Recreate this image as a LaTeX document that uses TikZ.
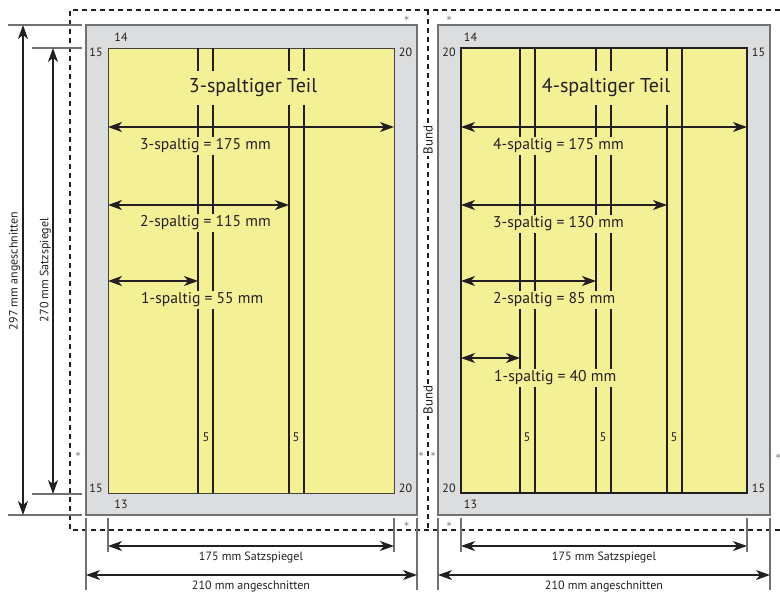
\documentclass[tikz,border=0pt]{standalone}
\usepackage{fontspec}
\setmainfont{PT Sans}
\newfontfamily\starfont{DejaVu Sans}
\usetikzlibrary{arrows.meta}
\definecolor{pagegray}{RGB}{220,221,222}
\definecolor{edgegray}{RGB}{112,113,115}
\definecolor{satz}{RGB}{244,240,150}
\definecolor{ink}{RGB}{35,31,32}
\begin{document}
\begin{tikzpicture}[x=1pt,y=-1pt,
  page/.style={fill=pagegray,draw=edgegray,line width=1.2pt},
  satzL/.style={fill=satz,draw=ink!85,line width=1pt},
  satzR/.style={fill=satz,draw=ink,line width=2pt},
  colline/.style={draw=ink,line width=1.1pt},
  dashline/.style={draw=ink,line width=1.1pt,dash pattern=on 5pt off 4pt},
  tickline/.style={draw=edgegray,line width=1.1pt},
  dim/.style={draw=ink,line width=1.2pt,{Stealth[length=14pt,width=10pt,inset=4pt]}-{Stealth[length=14pt,width=10pt,inset=4pt]}},
  lab/.style={fill=satz,inner xsep=1pt,inner ysep=2pt,text=ink,font=\fontsize{15.6}{17}\selectfont,anchor=west},
  title/.style={fill=satz,inner xsep=2pt,inner ysep=8pt,text=ink,font=\fontsize{20}{22}\selectfont},
  small/.style={text=ink,font=\fontsize{12}{13}\selectfont,inner sep=0pt},
  gut/.style={text=ink,font=\fontsize{12.5}{13}\selectfont,inner sep=0pt},
  dimtxt/.style={text=ink,font=\fontsize{12}{14}\selectfont,inner sep=0pt},
  star/.style={text=edgegray,font=\starfont\fontsize{10}{11}\selectfont,inner sep=0pt},
  bund/.style={fill=white,text=ink,font=\fontsize{13}{14}\selectfont,inner xsep=2pt,inner ysep=1pt,rotate=90}
]
\useasboundingbox (0,0) rectangle (780,592);

% dashed trim frame
\draw[dashline] (780,10) -- (70,10) -- (70,530) -- (780,530);
\draw[dashline] (428,10) -- (428,528);

% pages
\draw[page] (86,25) rectangle (417,515);
\draw[page] (438,25) rectangle (770,515);
\draw[satzL] (108,48) rectangle (394,493);
\draw[satzR] (461,48) rectangle (747,493);

% column lines
\foreach \x in {198,213,289,304} \draw[colline] (\x,48) -- (\x,493);
\foreach \x in {520,535,596,611,667,682} \draw[colline] (\x,48) -- (\x,493);

% coordinates for dimension arrows
\coordinate (L0a) at (108,127); \coordinate (L0b) at (394,127);
\coordinate (L1a) at (108,205); \coordinate (L1b) at (289,205);
\coordinate (L2a) at (108,281); \coordinate (L2b) at (198,281);
\coordinate (R0a) at (461,127); \coordinate (R0b) at (747,127);
\coordinate (R1a) at (461,205); \coordinate (R1b) at (667,205);
\coordinate (R2a) at (461,281); \coordinate (R2b) at (596,281);
\coordinate (R3a) at (461,358); \coordinate (R3b) at (520,358);

\draw[dim] (L0a) -- (L0b);
\draw[dim] (L1a) -- (L1b);
\draw[dim] (L2a) -- (L2b);
\draw[dim] (R0a) -- (R0b);
\draw[dim] (R1a) -- (R1b);
\draw[dim] (R2a) -- (R2b);
\draw[dim] (R3a) -- (R3b);

% titles and labels
\node[title] (tL) at (253,88) {3-spaltiger Teil};
\node[title] (tR) at (606,88) {4-spaltiger Teil};
\node[lab] (l0) at (139,146) {3-spaltig = 175 mm};
\node[lab] (l1) at (139,223) {2-spaltig = 115 mm};
\node[lab] (l2) at (140,300) {1-spaltig = 55 mm};
\node[lab] (r0) at (492,146) {4-spaltig = 175 mm};
\node[lab] (r1) at (492,224) {3-spaltig = 130 mm};
\node[lab] (r2) at (492,300) {2-spaltig = 85 mm};
\node[lab] (r3) at (493,378) {1-spaltig = 40 mm};

% gutter numbers
\node[gut] (g1) at (206,437) {5};
\node[gut] (g2) at (296,437) {5};
\node[gut] (g3) at (527,437) {5};
\node[gut] (g4) at (603,437) {5};
\node[gut] (g5) at (674,437) {5};

% margin numbers
\node[small] (mL1) at (121,37) {14};
\node[small] (mL2) at (96,52) {15};
\node[small] (mL3) at (405.5,52) {20};
\node[small] (mL4) at (96,488) {15};
\node[small] (mL5) at (121,504) {13};
\node[small] (mL6) at (405.5,488) {20};
\node[small] (mR1) at (470.5,37) {14};
\node[small] (mR2) at (449,52) {20};
\node[small] (mR3) at (758.5,52) {15};
\node[small] (mR4) at (449,488) {20};
\node[small] (mR5) at (470.5,504) {13};
\node[small] (mR6) at (758.5,488) {15};

% Bund
\node[bund] (b1) at (428,140) {Bund};
\node[bund] (b2) at (428,400) {Bund};

% asterisks
\node[star] (s1) at (406.5,20) {*};
\node[star] (s2) at (449,20) {*};
\node[star] (s3) at (78,456) {*};
\node[star] (s4) at (421,456) {*};
\node[star] (s5) at (433,456) {*};
\node[star] (s6) at (778,458) {*};
\node[star] (s7) at (406.5,526) {*};
\node[star] (s8) at (449,526) {*};

% left vertical dimensions
\draw[tickline] (8,25) -- (82,25);
\draw[tickline] (32,48) -- (82,48);
\draw[tickline] (32,494) -- (82,494);
\draw[tickline] (8,515) -- (82,515);
\coordinate (V0a) at (23,25); \coordinate (V0b) at (23,515);
\coordinate (V1a) at (53,48); \coordinate (V1b) at (53,494);
\draw[dim] (V0a) -- (V0b);
\draw[dim] (V1a) -- (V1b);
\node[dimtxt,rotate=90] (d297) at (14.5,271) {297 mm angeschnitten};
\node[dimtxt,rotate=90] (d270) at (45.5,270) {270 mm Satzspiegel};

% bottom dimensions
\foreach \x in {108,394,461,747} \draw[tickline] (\x,518) -- (\x,552);
\foreach \x in {86,417,438,770} \draw[tickline] (\x,518) -- (\x,590);
\coordinate (HL0a) at (108,546); \coordinate (HL0b) at (394,546);
\coordinate (HL1a) at (86,575);  \coordinate (HL1b) at (417,575);
\coordinate (HR0a) at (461,546); \coordinate (HR0b) at (747,546);
\coordinate (HR1a) at (438,575); \coordinate (HR1b) at (770,575);
\draw[dim] (HL0a) -- (HL0b);
\draw[dim] (HL1a) -- (HL1b);
\draw[dim] (HR0a) -- (HR0b);
\draw[dim] (HR1a) -- (HR1b);
\node[dimtxt] (bt1) at (251,557) {175 mm Satzspiegel};
\node[dimtxt] (bt2) at (251,586) {210 mm angeschnitten};
\node[dimtxt] (bt3) at (604,557) {175 mm Satzspiegel};
\node[dimtxt] (bt4) at (604,586) {210 mm angeschnitten};
\end{tikzpicture}
\end{document}
